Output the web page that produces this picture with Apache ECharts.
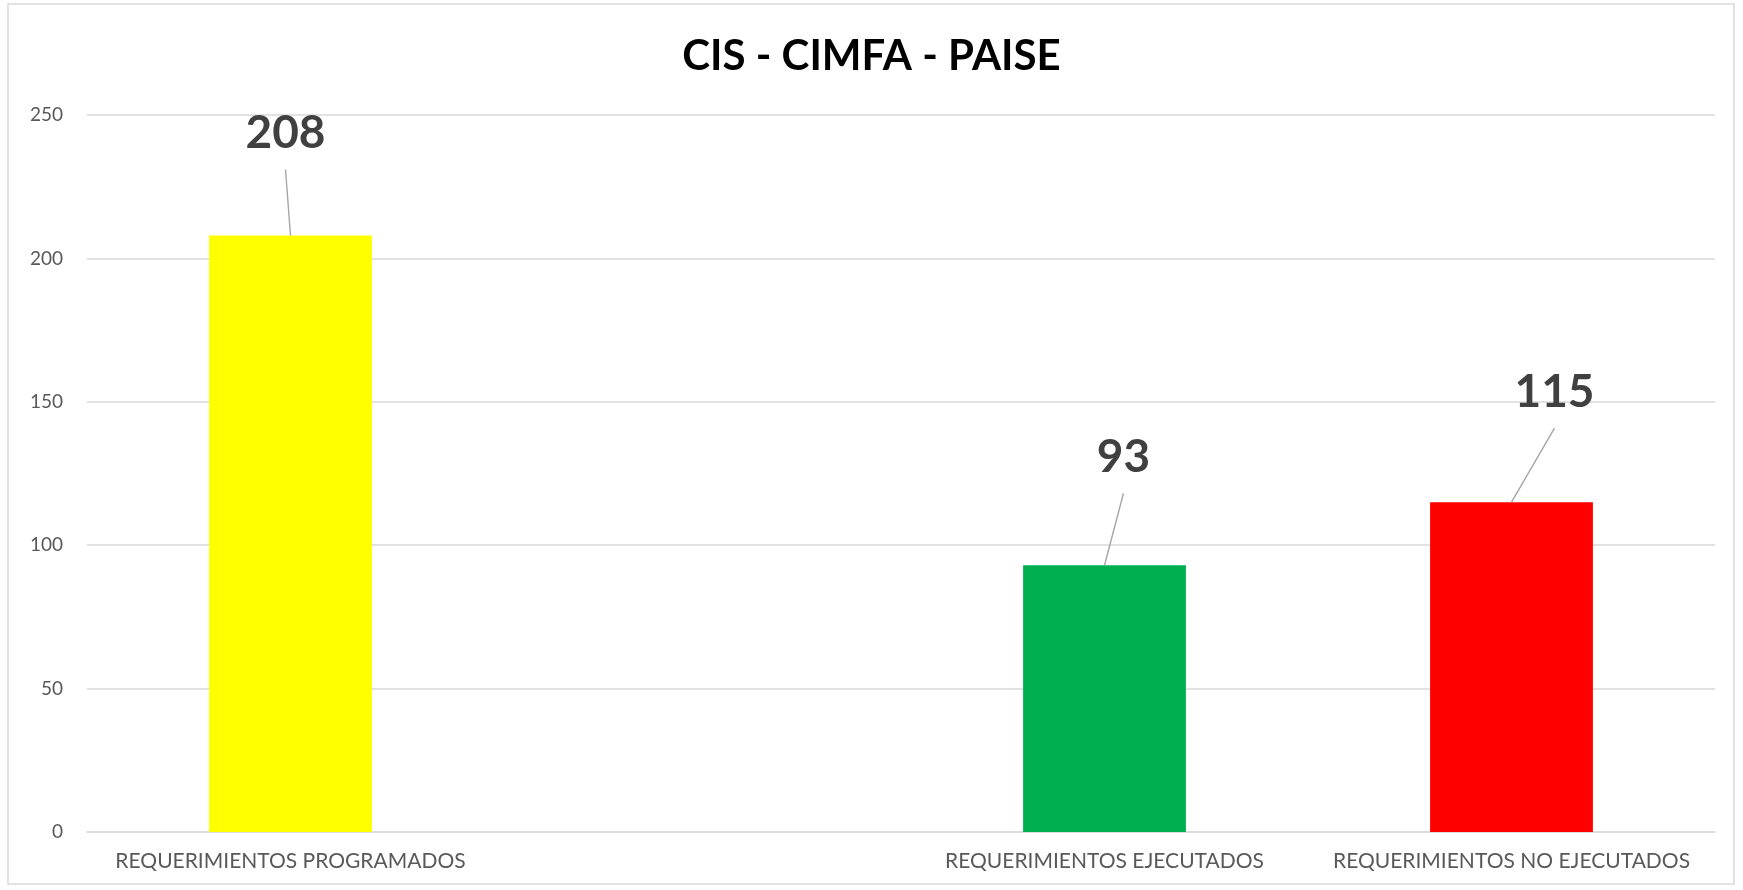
<!DOCTYPE html>
<html>
<head>
<meta charset="utf-8">
<script src="https://cdn.jsdelivr.net/npm/echarts@6/dist/echarts.min.js"></script>
<style>
    html, body { margin: 0; padding: 0; background: #fff; }
    #chart { width: 1743px; height: 890px; }
</style>
</head>
<body>
<div id="chart"></div>
<script>
    // datos del grafico
    const categories = ['REQUERIMIENTOS PROGRAMADOS', '', 'REQUERIMIENTOS EJECUTADOS', 'REQUERIMIENTOS NO EJECUTADOS'];
    const values = [208, null, 93, 115];
    const barColors = ['#FFFF00', '#FFFFFF', '#00B050', '#FF0000'];
    const yMin = 0, yMax = 250, yStep = 50;

    // desplazamiento de las etiquetas respecto a la parte superior de la barra (px)
    const labelOffsets = [[-5, -102], [0, 0], [19, -108], [43, -110]];

    const chart = echarts.init(document.getElementById('chart'));

    const labelData = [];
    values.forEach(function (v, i) {
        if (v !== null) labelData.push([i, v]);
    });

    chart.setOption({
        animation: false,
        title: {
            text: 'CIS - CIMFA - PAISE',
            left: 'center',
            top: 30,
            textStyle: {
                fontFamily: 'Lato',
                fontWeight: 'bold',
                fontSize: 42,
                color: '#000000'
            }
        },
        graphic: [{
            type: 'rect',
            shape: {x: 8, y: 4, width: 1726, height: 880},
            style: {fill: 'none', stroke: '#d9d9d9', lineWidth: 1.5},
            silent: true
        }],
        grid: {left: 87, right: 28, top: 115, bottom: 58},
        xAxis: {
            type: 'category',
            data: categories,
            axisTick: {show: false},
            axisLine: {lineStyle: {color: '#d9d9d9', width: 1.5}},
            axisLabel: {
                interval: 0,
                margin: 19,
                color: '#595959',
                fontFamily: 'Lato',
                fontSize: 21
            }
        },
        yAxis: {
            type: 'value',
            min: yMin,
            max: yMax,
            interval: yStep,
            axisLine: {show: false},
            axisTick: {show: false},
            splitLine: {lineStyle: {color: '#d9d9d9', width: 1.5}},
            axisLabel: {
                margin: 24,
                color: '#595959',
                fontFamily: 'Lato',
                fontSize: 19
            }
        },
        series: [{
            type: 'bar',
            barWidth: '40%',
            data: values.map(function (v, i) {
                return {value: v, itemStyle: {color: barColors[i]}};
            })
        }, {
            // etiquetas con linea guia
            type: 'custom',
            data: labelData,
            z: 5,
            renderItem: function (params, api) {
                const idx = api.value(0);
                const val = api.value(1);
                const p = api.coord([idx, val]);
                const off = labelOffsets[idx];
                const lx = p[0] + off[0];
                const ly = p[1] + off[1];
                return {
                    type: 'group',
                    children: [{
                        type: 'line',
                        shape: {x1: lx, y1: ly + 36, x2: p[0], y2: p[1]},
                        style: {stroke: '#a6a6a6', lineWidth: 1.4}
                    }, {
                        type: 'text',
                        x: lx,
                        y: ly,
                        style: {
                            text: String(val),
                            fill: '#404040',
                            font: 'bold 46px Lato',
                            align: 'center',
                            verticalAlign: 'middle'
                        }
                    }]
                };
            }
        }]
    });
</script>
</body>
</html>
